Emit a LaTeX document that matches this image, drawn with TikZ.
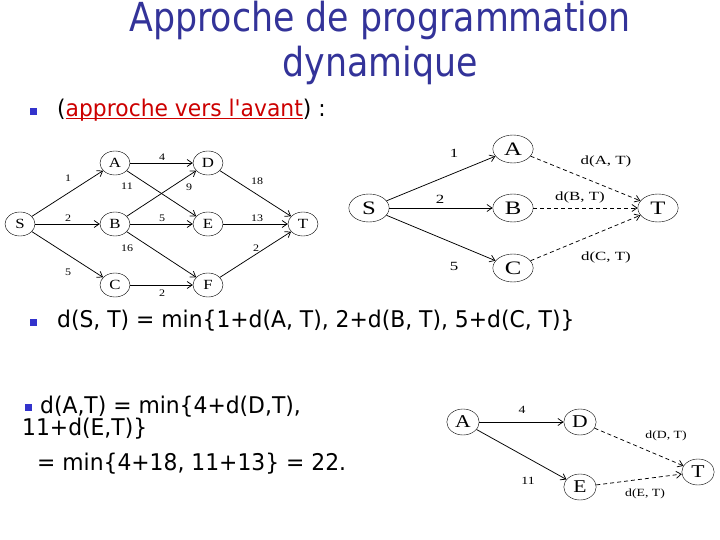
\documentclass[tikz,border=0pt]{standalone}
\usepackage{fontspec}
\setmainfont{DejaVu Sans}
\newfontfamily\graphfont{Liberation Serif}
\usetikzlibrary{positioning, arrows.meta, shapes.geometric}
\definecolor{titleblue}{HTML}{333399}
\definecolor{bulletblue}{HTML}{3333CC}
\definecolor{linkred}{HTML}{CC0000}
% red underlined link text
\newcommand{\linktext}[1]{\textcolor{linkred}{\setbox0\hbox{#1}\rlap{\rule[-2.5pt]{\wd0}{1.2pt}}\box0}}

\begin{document}
\begin{tikzpicture}[
    x=1pt, y=-1pt,
    every node/.style={inner sep=0pt},
    title/.style={font=\fontsize{40}{40}\selectfont, text=titleblue, anchor=base, xscale=0.87},
    bullet/.style={fill=bulletblue, minimum size=7pt},
    textline/.style={font=\fontsize{23}{23}\selectfont, anchor=base west, xscale=0.95},
    smallstate/.style={draw, ellipse, minimum width=25pt, minimum height=24pt, xscale=1.2, font=\graphfont\fontsize{14}{14}\selectfont},
    smallweight/.style={font=\graphfont\fontsize{10}{10}\selectfont, xscale=1.2},
    bigstate/.style={draw, ellipse, minimum width=31pt, minimum height=28pt, xscale=1.3, font=\graphfont\fontsize{19}{19}\selectfont},
    bigweight/.style={font=\graphfont\fontsize{12.5}{12.5}\selectfont, xscale=1.35},
    midstate/.style={draw, ellipse, minimum width=27pt, minimum height=26pt, xscale=1.2, font=\graphfont\fontsize{18}{18}\selectfont},
    midweight/.style={font=\graphfont\fontsize{11}{11}\selectfont, xscale=1.25},
    arrow/.style={-{Straight Barb[length=5pt, width=7pt]}, line width=0.75pt},
    dasharrow/.style={arrow, dash pattern=on 4pt off 3pt},
]
\useasboundingbox (0,0) rectangle (720,540);
% Title
\node[title] (title1) at (380,32) {Approche de programmation};
\node[title] (title2) at (380,77) {dynamique};
% Bullets and text
\node[bullet] (b1) at (33,112) {};
\node[textline] (t1) at (57,117) {(\linktext{approche vers l\textquotesingle avant}) :};
\node[bullet] (b2) at (33,322) {};
\node[textline] (t2) at (57,327) {d(S, T) = min\{1+d(A, T), 2+d(B, T), 5+d(C, T)\}};
\node[bullet] (b3) at (28,407) {};
\node[textline] (t3) at (40,413) {d(A,T) = min\{4+d(D,T),};
\node[textline] (t4) at (22,435) {11+d(E,T)\}};
\node[textline] (t5) at (37,470) {= min\{4+18, 11+13\} = 22.};
% Multistage graph
\node[smallstate] (S) at (20,224) {S};
\node[smallstate] (A) at (115,163) {A};
\node[smallstate] (B) at (115,224) {B};
\node[smallstate] (C) at (115,285) {C};
\node[smallstate] (D) at (208,163) {D};
\node[smallstate] (E) at (208,224) {E};
\node[smallstate] (F) at (208,285) {F};
\node[smallstate] (T) at (303,224) {T};
\draw[arrow] (S) -- (A);
\draw[arrow] (S) -- (B);
\draw[arrow] (S) -- (C);
\draw[arrow] (A) -- (D);
\draw[arrow] (A) -- (E);
\draw[arrow] (B) -- (D);
\draw[arrow] (B) -- (E);
\draw[arrow] (B) -- (F);
\draw[arrow] (C) -- (F);
\draw[arrow] (D) -- (T);
\draw[arrow] (E) -- (T);
\draw[arrow] (F) -- (T);
\node[smallweight] (wSA) at (68,178) {1};
\node[smallweight] (wSB) at (68,218) {2};
\node[smallweight] (wSC) at (68,272) {5};
\node[smallweight] (wAD) at (162,157) {4};
\node[smallweight] (wAE) at (127,186) {11};
\node[smallweight] (wBD) at (189,187) {9};
\node[smallweight] (wDT) at (257,181) {18};
\node[smallweight] (wBE) at (162,218) {5};
\node[smallweight] (wET) at (257,218) {13};
\node[smallweight] (wBF) at (127,248) {16};
\node[smallweight] (wFT) at (256,248) {2};
\node[smallweight] (wCF) at (162,293) {2};
% First step from S
\node[bigstate] (S2) at (369,208) {S};
\node[bigstate] (A2) at (513,149) {A};
\node[bigstate] (B2) at (513,208) {B};
\node[bigstate] (C2) at (513,268) {C};
\node[bigstate] (T2) at (658,208) {T};
\draw[arrow] (S2) -- (A2);
\draw[arrow] (S2) -- (B2);
\draw[arrow] (S2) -- (C2);
\draw[dasharrow] (A2) -- (T2);
\draw[dasharrow] (B2) -- (T2);
\draw[dasharrow] (C2) -- (T2);
\node[bigweight] (wSA2) at (454,153) {1};
\node[bigweight] (wSB2) at (440,199) {2};
\node[bigweight] (wSC2) at (454,266) {5};
\node[bigweight] (dAT) at (606,161) {d(A, T)};
\node[bigweight] (dBT) at (580,197) {d(B, T)};
\node[bigweight] (dCT) at (606,257) {d(C, T)};
% Step from A
\node[midstate] (A3) at (463,422) {A};
\node[midstate] (D3) at (580,422) {D};
\node[midstate] (E3) at (580,487) {E};
\node[midstate] (T3) at (698,472) {T};
\draw[arrow] (A3) -- (D3);
\draw[arrow] (A3) -- (E3);
\draw[dasharrow] (D3) -- (T3);
\draw[dasharrow] (E3) -- (T3);
\node[midweight] (wAD3) at (522,410) {4};
\node[midweight] (wAE3) at (528,481) {11};
\node[midweight] (dDT) at (666,436) {d(D, T)};
\node[midweight] (dET) at (645,494) {d(E, T)};
\end{tikzpicture}
\end{document}
